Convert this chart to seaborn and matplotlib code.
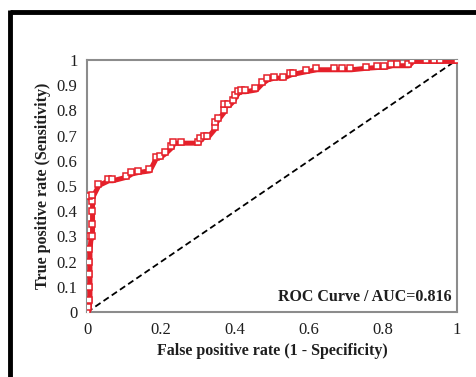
import numpy as np
import pandas as pd
import matplotlib
matplotlib.use("Agg")
import matplotlib.pyplot as plt
import matplotlib.lines as mlines
import matplotlib.transforms as mtransforms
import seaborn as sns

# ── Data ─────────────────────────────────────────────────────────────────────
fpr = [0.0, 0.003, 0.005, 0.005, 0.005, 0.005, 0.005, 0.008, 0.012, 0.012,
       0.012, 0.012, 0.005, 0.014, 0.029, 0.056, 0.067, 0.104, 0.119, 0.137,
       0.167, 0.185, 0.196, 0.210, 0.228, 0.232, 0.255, 0.300, 0.305, 0.316,
       0.325, 0.345, 0.346, 0.353, 0.369, 0.370, 0.382, 0.394, 0.400, 0.407,
       0.417, 0.426, 0.455, 0.472, 0.486, 0.504, 0.529, 0.549, 0.558, 0.592,
       0.619, 0.668, 0.689, 0.712, 0.753, 0.783, 0.803, 0.823, 0.837, 0.868,
       0.879, 0.916, 0.939, 0.954, 1.0]
tpr = [0.0, 0.02, 0.05, 0.10, 0.15, 0.20, 0.25, 0.30, 0.30, 0.35,
       0.40, 0.44, 0.46, 0.465, 0.508, 0.527, 0.527, 0.541, 0.554, 0.560,
       0.566, 0.617, 0.620, 0.635, 0.660, 0.675, 0.676, 0.676, 0.690, 0.700,
       0.700, 0.735, 0.755, 0.770, 0.800, 0.825, 0.825, 0.843, 0.860, 0.875,
       0.880, 0.880, 0.887, 0.913, 0.927, 0.934, 0.934, 0.947, 0.950, 0.960,
       0.967, 0.967, 0.967, 0.967, 0.973, 0.976, 0.976, 0.983, 0.983, 0.983,
       1.0, 1.0, 1.0, 1.0, 1.0]
diag = [0.0, 1.0]
xticks = [0, 0.2, 0.4, 0.6, 0.8, 1]
xticklabels = ["0", "0.2", "0.4", "0.6", "0.8", "1"]
yticks = [0, 0.1, 0.2, 0.3, 0.4, 0.5, 0.6, 0.7, 0.8, 0.9, 1]
yticklabels = ["0", "0.1", "0.2", "0.3", "0.4", "0.5", "0.6", "0.7", "0.8", "0.9", "1"]
auc_label = "ROC Curve / AUC=0.816"

RED = "#E5202A"
SPINE = "#8C8C8C"
INK = "#1E1E1E"

sns.set_style("white")
plt.rcParams["font.family"] = ["Liberation Serif", "DejaVu Serif"]

fig = plt.figure(figsize=(4.76, 3.77), dpi=100)
ax = fig.add_axes([0.183, 0.172, 0.777, 0.669])

df = pd.DataFrame({"fpr": fpr, "tpr": tpr})
# thick fitted line, sitting a little below/right of the markers (as in the source)
sns.lineplot(data=df, x="fpr", y="tpr", sort=False, estimator=None,
             color=RED, lw=3.6, ax=ax, zorder=3)
shifted = mtransforms.offset_copy(ax.transData, fig=fig, x=1.0, y=-1.5, units="dots")
ax.lines[-1].set_transform(shifted)
# open square markers
sns.lineplot(data=df, x="fpr", y="tpr", sort=False, estimator=None,
             color=RED, lw=0, marker="s", markersize=4.2,
             markerfacecolor="white", markeredgecolor=RED, markeredgewidth=1.1,
             ax=ax, zorder=4)
sns.lineplot(x=diag, y=diag, color="black", lw=1.3, ax=ax, zorder=2,
             linestyle=(0, (3.5, 2)))

ax.set_xlim(0, 1)
ax.set_ylim(0, 1)
ax.set_xticks(xticks)
ax.set_xticklabels(xticklabels)
ax.set_yticks(yticks)
ax.set_yticklabels(yticklabels)
ax.tick_params(direction="inout", length=8, width=1.3, color=SPINE,
               labelsize=12, labelcolor=INK, pad=3)
for s in ax.spines.values():
    s.set_color(SPINE)
    s.set_linewidth(1.5)

ax.set_xlabel("False positive rate (1 - Specificity)", fontsize=11.5,
              fontweight="bold", color=INK, labelpad=4)
ax.set_ylabel("True positive rate (Sensitivity)", fontsize=11.5,
              fontweight="bold", color=INK, labelpad=4)
ax.text(0.985, 0.06, auc_label, transform=ax.transAxes, ha="right", va="center",
        fontsize=11.5, fontweight="bold", color=INK)

# thick black outer frame; only its top and left edges fall inside the image
x0, y0 = 10 / 476, 1 - 12 / 377
fig.lines.append(mlines.Line2D([x0, 1.0], [y0, y0], transform=fig.transFigure,
                               color="black", lw=3.5, solid_capstyle="butt"))
fig.lines.append(mlines.Line2D([x0, x0], [y0 + 0.005, 0.0], transform=fig.transFigure,
                               color="black", lw=3.5, solid_capstyle="butt"))

fig.savefig("out.png", dpi=100)
